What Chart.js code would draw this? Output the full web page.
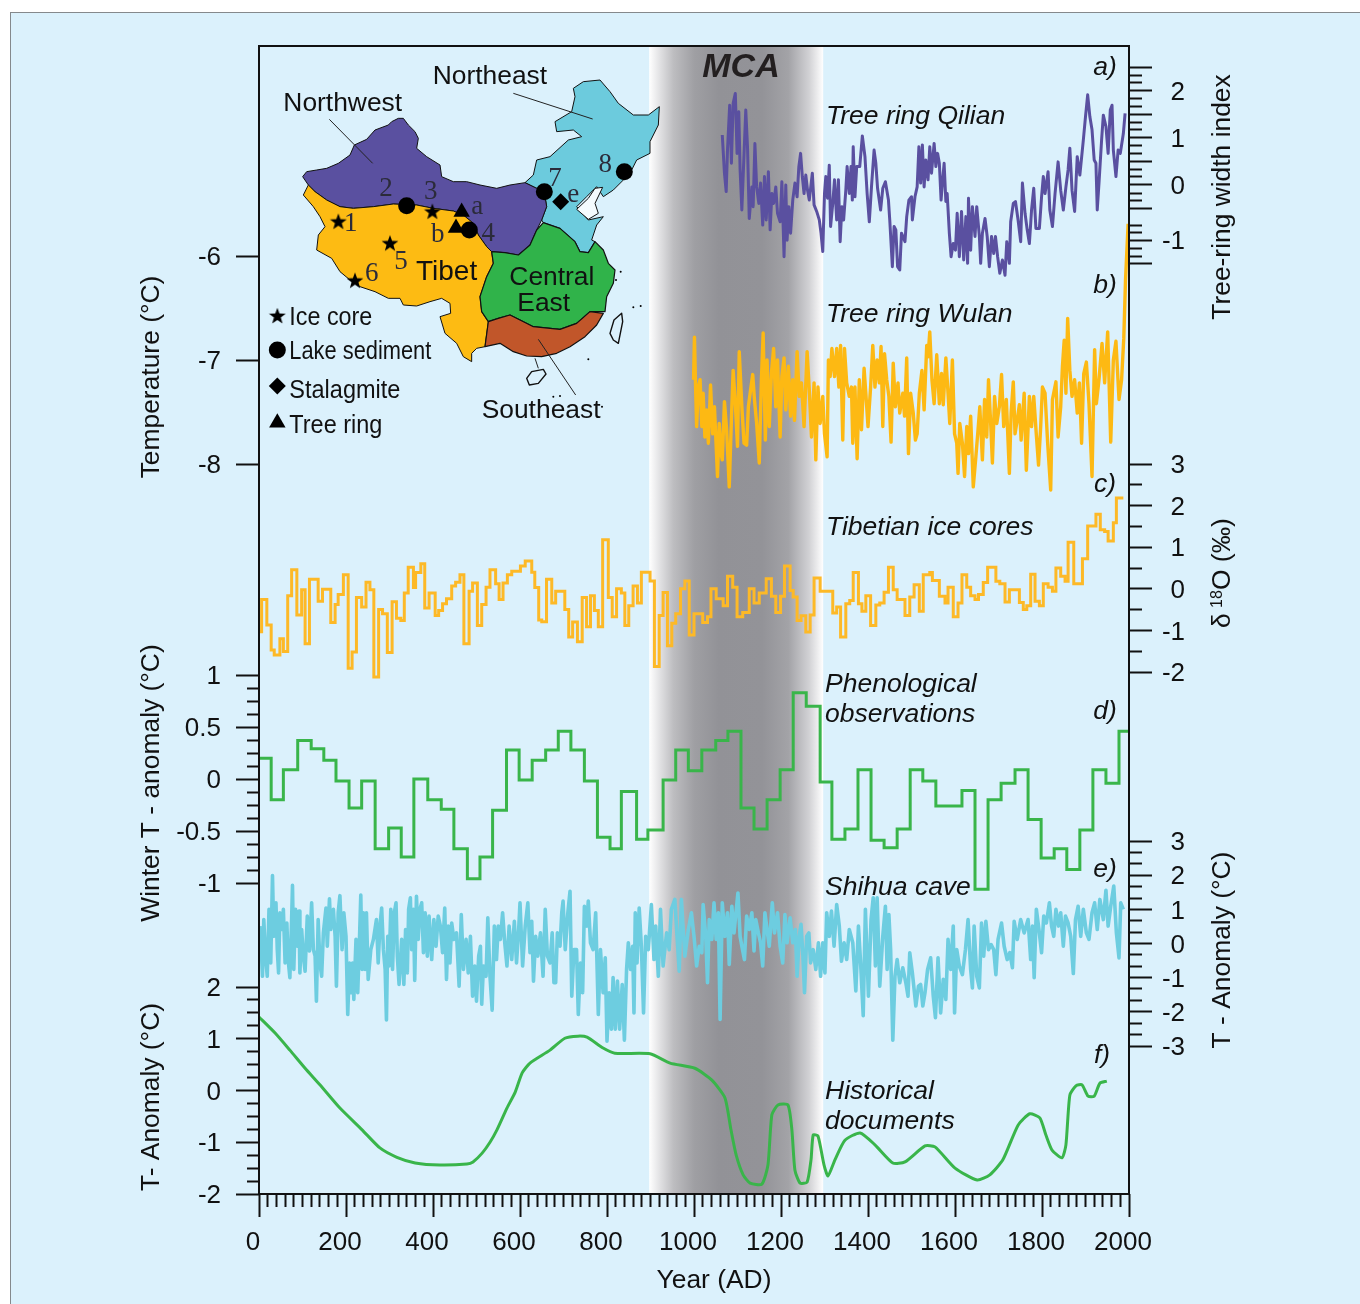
<!DOCTYPE html>
<html>
<head>
<meta charset="utf-8">
<title>MCA temperature records</title>
<script src="https://cdn.jsdelivr.net/npm/chart.js@4"></script>
<style>
html,body{margin:0;padding:0;background:#fff;}
#panel{position:absolute;left:10px;top:12px;width:1350px;height:1292px;background:#dbf1fc;border-left:1.5px solid #85898c;border-top:1.5px solid #85898c;box-sizing:border-box;}
#chart{position:absolute;left:0;top:0;}
</style>
</head>
<body>
<div id="panel"></div>
<canvas id="chart" width="1360" height="1304"></canvas>
<script>
// [year, value]
const treeRingQilian=[[1065,1.06],[1070,.25],[1074,-.14],[1077,.74],[1082,1.69],[1086,.46],[1090,1.73],[1095,1.94],[1099,.67],[1103,1.55],[1106,.32],[1110,-.53],[1113,.18],[1119,1.59],[1123,.81],[1127,-.71],[1133,-.04],[1136,-.46],[1140,.88],[1144,-.04],[1149,-.39],[1153,.04],[1158,-.85],[1162,.18],[1166,-.74],[1171,.28],[1175,-.95],[1179,-.18],[1183,-.39],[1188,-.04],[1192,-.6],[1198,-.78],[1202,.07],[1207,-1.52],[1211,0],[1214,-1.17],[1218,-.46],[1222,-1.02],[1227,-.32],[1232,.04],[1237,-.25],[1241,.39],[1245,.67],[1249,.18],[1253,-.18],[1257,.21],[1261,-.11],[1265,-.32],[1272,.25],[1276,-.42],[1282,-.56],[1288,-.74],[1292,-1.02],[1296,-1.41],[1300,-.18],[1303,.18],[1307,-.28],[1311,.42],[1314,-.88],[1319,-.39],[1323,.11],[1328,-.74],[1332,.11],[1336,-1.2],[1340,-.46],[1344,-.74],[1349,-.11],[1352,.39],[1357,-.18],[1361,.39],[1364,-.32],[1366,.81],[1370,-.25],[1374,.39],[1381,.39],[1387,1.04],[1393,.6],[1398,-.18],[1403,-.78],[1408,-.04],[1414,.74],[1418,.46],[1422,-.07],[1429,-.53],[1434,-.07],[1440,.07],[1447,-.32],[1450,-.74],[1456,-1.73],[1460,-.88],[1464,-.95],[1468,-1.73],[1473,-1.8],[1477,-1.02],[1485,-1.2],[1489,-.67],[1494,-.32],[1500,-.25],[1502,-.74],[1508,-.25],[1513,-.04],[1517,.81],[1521,.04],[1525,.85],[1529,-.04],[1533,.53],[1538,.11],[1542,.81],[1546,.25],[1552,.88],[1556,.39],[1560,.67],[1564,.46],[1568,-.32],[1571,.04],[1575,.46],[1579,-.35],[1582,-.18],[1587,-1.02],[1591,-1.52],[1596,-1.24],[1601,-1.38],[1605,-.6],[1610,-1.52],[1615,-.56],[1620,-1.59],[1625,-.67],[1629,-1.66],[1631,-.28],[1636,-1.38],[1640,-.46],[1646,-1.09],[1650,-.46],[1656,-1.09],[1659,-1.66],[1663,-1.02],[1669,-.71],[1674,-1.09],[1679,-1.73],[1684,-1.09],[1689,-1.45],[1693,-1.09],[1698,-1.52],[1703,-1.87],[1709,-1.59],[1715,-1.91],[1719,-1.2],[1725,-1.66],[1728,-.78],[1734,-.39],[1739,-.35],[1745,-.74],[1751,-1.2],[1755,.04],[1761,-.6],[1766,-.95],[1771,-1.24],[1776,-.53],[1781,-.07],[1786,-.92],[1794,-.92],[1799,-.25],[1803,.18],[1807,-.18],[1814,.28],[1818,-.53],[1824,-.88],[1830,-.18],[1837,.49],[1843,-.11],[1849,-.53],[1855,-.04],[1860,.32],[1864,.78],[1869,-.11],[1875,-.56],[1881,.6],[1887,.21],[1895,.95],[1900,1.45],[1905,1.91],[1910,1.45],[1915,1.17],[1920,.53],[1924,.46],[1927,-.53],[1931,.04],[1937,.95],[1941,1.48],[1947,1.24],[1952,.67],[1957,1.59],[1961,1.69],[1964,.74],[1970,.18],[1975,.74],[1980,.67],[1987,1.09],[1991,1.52]];
const treeRingWulan=[[999,-7.19],[1001,-6.78],[1004,-7.32],[1006,-7.64],[1010,-7.26],[1014,-7.19],[1018,-7.64],[1021,-7.32],[1025,-7.74],[1029,-7.48],[1033,-7.8],[1038,-7.24],[1043,-7.71],[1047,-7.45],[1054,-8.12],[1058,-7.61],[1062,-7.9],[1065,-7.96],[1070,-7.4],[1075,-7.67],[1081,-8.22],[1087,-7.45],[1090,-7.1],[1095,-7.42],[1100,-7.83],[1104,-6.92],[1110,-7.45],[1115,-7.8],[1121,-7.82],[1125,-7.45],[1130,-7.29],[1135,-7.14],[1139,-7.38],[1144,-7.61],[1150,-7.99],[1155,-7.19],[1159,-6.74],[1164,-7.77],[1168,-7],[1173,-7.64],[1178,-7.13],[1183,-6.89],[1188,-7.45],[1192,-7],[1198,-7.74],[1202,-7.16],[1207,-6.98],[1211,-7.48],[1217,-7.06],[1222,-7.54],[1227,-7.19],[1231,-7.58],[1237,-6.92],[1242,-7.35],[1247,-7.22],[1253,-7.64],[1260,-6.92],[1265,-7.29],[1270,-7.74],[1276,-7.22],[1280,-7.96],[1285,-7.26],[1290,-7.61],[1296,-7.35],[1300,-7.71],[1306,-7.93],[1309,-7],[1313,-7.16],[1317,-6.89],[1323,-7.16],[1328,-6.89],[1333,-7.26],[1337,-6.86],[1342,-7.77],[1346,-6.89],[1351,-7.22],[1357,-7.35],[1362,-7.26],[1365,-7.8],[1370,-7.26],[1375,-7.95],[1380,-7.19],[1385,-7.67],[1391,-7.08],[1395,-7.32],[1400,-7.64],[1406,-7.26],[1411,-6.86],[1416,-7.26],[1421,-7],[1426,-7.22],[1430,-6.87],[1434,-7.64],[1438,-6.94],[1443,-7.19],[1448,-7.35],[1453,-7.79],[1458,-7.03],[1463,-7.45],[1469,-7.22],[1473,-7.51],[1480,-7.32],[1484,-7.54],[1489,-6.98],[1493,-7.9],[1498,-7.32],[1504,-7.51],[1509,-7.77],[1513,-7.71],[1518,-7.32],[1524,-7.1],[1529,-7.48],[1535,-6.86],[1538,-6.97],[1542,-6.73],[1547,-7.19],[1552,-7.42],[1558,-6.95],[1564,-7.42],[1569,-7.13],[1573,-7.43],[1579,-6.98],[1584,-7.32],[1588,-7.61],[1594,-7],[1599,-7.71],[1604,-7.8],[1607,-8.09],[1611,-7.61],[1617,-7.8],[1622,-8.12],[1627,-7.64],[1631,-7.9],[1636,-7.54],[1642,-8.22],[1648,-7.93],[1653,-7.67],[1657,-7.45],[1663,-7.96],[1668,-7.38],[1673,-7.74],[1677,-7.19],[1682,-7.61],[1686,-7.99],[1691,-7.35],[1696,-7.61],[1702,-7.45],[1707,-7.14],[1712,-7.64],[1718,-7.38],[1725,-8.09],[1729,-7.51],[1734,-7.21],[1738,-7.71],[1743,-7.58],[1748,-7.43],[1752,-7.77],[1759,-7.32],[1764,-8.06],[1771,-7.35],[1776,-7.64],[1781,-7.35],[1787,-7.72],[1792,-8.01],[1797,-7.64],[1801,-7.26],[1807,-7.32],[1813,-7.8],[1820,-8.25],[1824,-7.38],[1832,-7.21],[1837,-7.74],[1843,-7.45],[1847,-7.06],[1851,-6.81],[1855,-7.32],[1859,-6.6],[1864,-7.1],[1869,-7.35],[1875,-7.19],[1881,-7.51],[1886,-7.22],[1891,-7.8],[1896,-7.13],[1902,-7.02],[1908,-7.42],[1915,-8.12],[1921,-6.9],[1925,-7.42],[1931,-7.19],[1938,-6.84],[1944,-7.22],[1951,-6.73],[1958,-7.79],[1964,-7],[1970,-6.82],[1977,-7.38],[1983,-7.19],[1988,-6.79],[1992,-6.23],[1998,-5.69]];
const tibetanIceCores=[[1,-1.03],[6,-.26],[18,-.87],[28,-1.47],[35,-1.59],[48,-1.2],[56,-1.51],[66,-.17],[75,.46],[87,-.63],[98,-.02],[106,-1.32],[116,.23],[136,-.3],[146,-.01],[165,-.81],[175,-.38],[182,-.14],[194,.34],[205,-1.91],[214,-1.52],[224,-.21],[236,-.44],[246,.16],[255,-.02],[264,-2.12],[275,-.5],[284,-.6],[295,-1.53],[306,-.31],[316,-.71],[326,-.76],[334,-.1],[343,.52],[355,.03],[360,.39],[372,.6],[381,-.46],[391,-.1],[405,-.64],[413,-.52],[422,-.36],[431,-.24],[443,.07],[452,.16],[462,.34],[471,-1.32],[483,-.06],[491,.14],[502,-.88],[512,-.38],[522,.04],[531,.46],[544,.12],[552,-.26],[561,.14],[571,.34],[581,.42],[601,.55],[612,.67],[627,.4],[634,.03],[643,-.75],[650,-.79],[661,.23],[673,-.34],[682,-.06],[703,-.5],[712,-1.16],[721,-.8],[732,-1.27],[743,-.21],[753,-.91],[762,-.17],[771,-.52],[780,-.91],[790,1.18],[803,-.21],[812,-.67],[822,0],[833,-.1],[841,-.88],[850,-.41],[860,.07],[870,-.34],[879,.4],[899,.19],[909,-1.87],[920,-.64],[929,-.09],[939,-1.37],[949,-.83],[958,-.6],[969,0],[979,.19],[989,-1.11],[1000,-.6],[1020,-.81],[1031,-.67],[1039,0],[1051,-.24],[1067,-.41],[1077,.3],[1089,.04],[1099,-.67],[1112,-.57],[1127,0],[1138,-.34],[1150,-.1],[1166,.24],[1178,-.18],[1188,-.57],[1199,-.18],[1208,.55],[1221,-.04],[1228,-.2],[1237,-.76],[1246,-.65],[1257,-1.04],[1267,-.63],[1276,.26],[1290,-.06],[1319,-.58],[1328,-.44],[1337,-1.16],[1349,-.36],[1358,-.28],[1366,.39],[1378,-.36],[1386,-.54],[1395,-.17],[1406,-.88],[1418,-.39],[1427,-.34],[1437,-.08],[1447,.52],[1458,-.02],[1467,-.26],[1485,-.64],[1496,-.2],[1506,.1],[1518,-.54],[1527,.34],[1542,.39],[1548,.2],[1564,-.18],[1577,-.34],[1584,.04],[1596,-.67],[1607,-.34],[1616,.34],[1627,.04],[1636,-.17],[1646,-.26],[1654,-.14],[1665,.15],[1675,.52],[1694,.18],[1703,.12],[1715,-.32],[1725,-.02],[1748,-.33],[1757,-.5],[1765,-.41],[1774,.35],[1784,-.3],[1794,-.41],[1803,.12],[1814,.04],[1824,-.06],[1832,.5],[1843,.3],[1853,.18],[1860,1.12],[1873,.12],[1893,.72],[1905,1.51],[1924,1.79],[1934,1.42],[1944,1.38],[1952,1.15],[1964,1.59],[1971,2.18],[1987,2.18]];
const phenological=[[1,.2],[28,-.2],[56,.09],[89,.37],[120,.29],[149,.18],[177,-.02],[207,-.28],[236,-.02],[267,-.67],[298,-.47],[327,-.75],[356,0],[388,-.2],[419,-.29],[448,-.67],[479,-.96],[508,-.75],[537,-.3],[569,.28],[598,-.01],[628,.18],[659,.28],[688,.46],[717,.28],[748,-.02],[778,-.56],[807,-.67],[833,-.12],[868,-.58],[894,-.49],[929,-.01],[958,.28],[987,.08],[1018,.28],[1050,.37],[1078,.46],[1108,-.28],[1138,-.48],[1168,-.2],[1198,.09],[1228,.83],[1258,.7],[1290,-.03],[1317,-.58],[1347,-.48],[1377,.09],[1407,-.59],[1437,-.66],[1467,-.48],[1497,.09],[1526,-.02],[1556,-.26],[1616,-.11],[1646,-1.06],[1676,-.2],[1706,-.04],[1738,.09],[1768,-.39],[1798,-.76],[1828,-.67],[1857,-.87],[1887,-.49],[1917,.09],[1947,-.04],[1977,.46],[2000,.46]];
const shihuaCave=[[2,.51],[5,-.08],[8,-.96],[11,.7],[15,-.37],[19,-.96],[23,1],[27,-.57],[31,1.99],[34,.21],[39,1.19],[42,-.18],[45,-.86],[48,.9],[53,.41],[56,1],[60,-.57],[64,.6],[67,-.47],[71,-1],[75,.7],[77,1.7],[80,-.76],[84,1],[88,-.08],[92,.95],[94,-.86],[98,.41],[102,-.37],[106,-.81],[111,.8],[116,-.22],[121,1.19],[125,-.18],[129,-.37],[132,-1.69],[136,.7],[140,-.57],[144,-.96],[148,.31],[154,1.04],[157,-.08],[162,1.31],[165,.41],[171,1],[175,.21],[178,-1.25],[182,.9],[186,1.4],[191,-.18],[195,.9],[200,.21],[204,-2.08],[208,-.57],[211,-1.44],[215,-.57],[218,-1.64],[223,.12],[227,-1.44],[231,.12],[234,1.42],[237,-.76],[240,.9],[244,-.76],[247,.9],[251,-1.05],[257,-.18],[263,.12],[270,.7],[274,-.57],[278,.51],[282,1.04],[286,-.18],[290,-.76],[293,-2.24],[296,.21],[299,-.66],[303,1],[307,-.76],[311,.9],[315,1.19],[318,-.37],[322,-1.2],[328,.12],[333,-1.2],[337,.41],[341,-.86],[344,1],[348,1.34],[351,-.18],[355,1],[358,-1.08],[362,1.38],[366,.12],[370,1],[374,1.19],[378,-.27],[382,.9],[387,-.37],[391,.8],[397,-.47],[402,.7],[407,-.08],[412,.8],[417,.51],[422,-.27],[427,1.04],[431,-1.05],[435,.51],[439,-.57],[443,.6],[448,.12],[454,.31],[460,-1.25],[465,.85],[470,-.76],[476,.12],[481,-.86],[486,.21],[491,-1.54],[496,-.66],[500,-1.69],[505,-.37],[509,-.08],[512,-1.78],[516,-.66],[522,-.96],[526,.75],[531,-.96],[536,-1.95],[541,.51],[546,-.47],[550,.51],[555,.12],[560,.9],[565,.02],[570,-.66],[575,.51],[581,-.47],[587,.65],[592,-.57],[597,.41],[600,1.19],[606,-.66],[612,.51],[618,1.19],[623,-.27],[627,.65],[631,-1.1],[636,.21],[641,-.37],[647,.31],[653,-.96],[658,1],[663,-.37],[669,-.57],[674,.31],[678,-1.15],[682,-1.15],[686,.31],[692,-.08],[696,.9],[699,1.24],[704,-.18],[710,.9],[715,1.53],[719,-1.54],[724,-.18],[730,-.18],[734,-2.08],[739,-.57],[744,-1.44],[748,1.09],[753,.51],[757,1.24],[762,.02],[768,-.18],[774,.9],[780,-2.08],[785,-.18],[791,-1.44],[796,-.42],[800,-2.86],[805,-1.44],[810,-2.51],[814,-1],[819,-2.51],[824,-1.1],[829,-2.51],[835,-1.2],[840,-2.83],[845,-.76],[849,.02],[854,-.76],[859,-.08],[862,-2.03],[865,.9],[869,-.57],[874,1.04],[879,-.08],[884,-2.03],[889,.21],[895,-.18],[902,1.14],[908,-.47],[912,.51],[918,-.96],[923,1],[929,-.66],[937,.31],[943,-.18],[948,1],[956,1.29],[961,.21],[966,-.81],[971,1.29],[979,-.37],[987,.41],[994,.9],[1000,.21],[1006,-.66],[1012,-.08],[1018,-.27],[1021,1.14],[1027,.21],[1031,-1.15],[1035,.7],[1041,.12],[1046,1.19],[1051,.12],[1056,.9],[1060,-2.22],[1065,1.19],[1071,.21],[1077,.9],[1081,-.61],[1087,1.09],[1092,.31],[1101,1.48],[1106,.21],[1110,-.08],[1116,-.47],[1121,.8],[1127,.41],[1133,.9],[1138,-.22],[1142,.7],[1148,.31],[1153,.02],[1158,-.66],[1163,.9],[1169,.31],[1173,-.08],[1180,1.19],[1185,.31],[1192,.9],[1198,-.08],[1204,-.57],[1209,.85],[1214,.02],[1221,.75],[1227,.02],[1233,.41],[1237,-.96],[1242,.21],[1246,.56],[1250,-.27],[1254,-1.44],[1259,.21],[1264,.31],[1268,-.57],[1274,-.18],[1280,-.76],[1286,.02],[1291,-.96],[1296,.02],[1301,-.86],[1305,.9],[1311,.21],[1316,.95],[1322,-.08],[1328,1.14],[1334,.51],[1339,-.52],[1345,.02],[1351,-.47],[1357,.41],[1365,.02],[1372,-1.39],[1378,.51],[1383,-.57],[1389,-2.11],[1394,1],[1401,-1.54],[1407,.7],[1412,1.34],[1417,-.66],[1421,1.34],[1427,-1.25],[1434,.21],[1440,1.09],[1444,-.76],[1448,.85],[1452,-.18],[1457,-2.83],[1462,-.96],[1467,-.47],[1473,-1.15],[1480,-.71],[1487,-1.15],[1492,-1.54],[1496,-.27],[1502,-.86],[1510,-1.83],[1516,-1.25],[1521,-1.2],[1526,-1.83],[1531,-1.44],[1537,-.76],[1544,-.42],[1550,-1.54],[1555,-2.17],[1561,-.42],[1567,-2.03],[1573,-1.05],[1579,-1.64],[1584,.12],[1590,-.76],[1596,.51],[1599,-2.03],[1604,-.18],[1610,-.66],[1617,-.91],[1624,-.18],[1630,.7],[1636,-.76],[1640,-1.3],[1644,.51],[1650,-.96],[1656,-1.3],[1661,.6],[1666,-.37],[1671,.65],[1677,-.18],[1683,-.03],[1689,-.18],[1694,-.91],[1699,.12],[1707,.6],[1713,-.08],[1720,-.47],[1726,-.27],[1732,-.71],[1736,.65],[1743,.12],[1751,.7],[1759,.31],[1768,.7],[1774,-.47],[1778,.51],[1782,-1],[1787,1],[1793,.41],[1799,-.27],[1804,.8],[1810,.6],[1817,1.19],[1822,.51],[1827,.21],[1832,1],[1838,.51],[1843,.9],[1849,-.08],[1854,.8],[1860,.6],[1866,.21],[1872,-.88],[1877,.7],[1883,1.09],[1889,.21],[1895,1],[1902,.31],[1908,.12],[1915,.9],[1921,1.19],[1927,.41],[1933,1.29],[1941,.7],[1947,1.56],[1952,.51],[1958,1.09],[1965,1.68],[1971,.31],[1977,-.42],[1981,1.19],[1987,1]];
const historicalDocs=[[0,1.42],[37,1.11],[71,.78],[106,.43],[140,.11],[186,-.34],[237,-.76],[278,-1.11],[317,-1.29],[359,-1.4],[416,-1.44],[478,-1.42],[492,-1.38],[513,-1.21],[531,-1],[547,-.76],[570,-.34],[589,-.03],[605,.34],[623,.53],[669,.78],[703,1.01],[733,1.05],[754,1.03],[791,.82],[818,.72],[899,.71],[945,.53],[1002,.43],[1041,.2],[1071,-.14],[1085,-.76],[1097,-1.25],[1113,-1.63],[1129,-1.79],[1156,-1.81],[1170,-1.44],[1179,-.47],[1193,-.28],[1216,-.28],[1225,-.76],[1232,-1.54],[1244,-1.79],[1260,-1.77],[1269,-1.34],[1274,-.86],[1285,-.88],[1299,-1.44],[1308,-1.65],[1324,-1.34],[1347,-.96],[1382,-.82],[1416,-1.05],[1457,-1.4],[1485,-1.38],[1531,-1.07],[1554,-1.09],[1600,-1.5],[1651,-1.73],[1680,-1.63],[1710,-1.34],[1745,-.67],[1772,-.45],[1795,-.53],[1809,-.86],[1823,-1.15],[1846,-1.3],[1855,-1.05],[1864,-.09],[1878,.09],[1892,.11],[1906,-.11],[1920,-.11],[1933,.14],[1949,.18]];

const mcaYears=[897,1297];

const xMajor=[0,200,400,600,800,1000,1200,1400,1600,1800,2000];
const xMinor=[20,40,60,80,100,120,140,160,180,220,240,260,280,300,320,340,360,380,420,440,460,480,500,520,540,560,580,620,640,660,680,700,720,740,760,780,820,840,860,880,900,920,940,960,980,1020,1040,1060,1080,1100,1120,1140,1160,1180,1220,1240,1260,1280,1300,1320,1340,1360,1380,1420,1440,1460,1480,1500,1520,1540,1560,1580,1620,1640,1660,1680,1700,1720,1740,1760,1780,1820,1840,1860,1880,1900,1920,1940,1960,1980];

const tempTicks=[-6,-7,-8];
const tempLabels=["-6","-7","-8"];
const winterTicks=[1,.5,0,-.5,-1];
const winterLabels=["1","0.5","0","-0.5","-1"];
const winterMinor=[.875,.75,.625,.375,.25,.125,-.125,-.25,-.375,-.625,-.75,-.875];
const histTicks=[2,1,0,-1,-2];
const histLabels=["2","1","0","-1","-2"];
const histMinor=[1.75,1.5,1.25,.75,.5,.25,-.25,-.5,-.75,-1.25,-1.5,-1.75];
const qilianTicks=[2.5,2,1.5,1,.5,0,-.5,-1.17,-1.66];
const qilianLabels=["","2","","1","","0","","-1",""];
const qilianMinor=[2.33,2.17,1.83,1.67,1.33,1.17,.83,.67,.33,.17,-.17,-.33,-.85,-1.01,-1.34,-1.52];
const iceTicks=[3,2,1,0,-1,-2];
const iceLabels=["3","2","1","0","-1","-2"];
const iceMinor=[2.5,1.5,.5,-.5,-1.5];
const caveTicks=[3,2,1,0,-1,-2,-3];
const caveLabels=["3","2","1","0","-1","-2","-3"];
const caveMinor=[2.67,2.33,1.67,1.33,.67,.33,-.33,-.67,-1.33,-1.67,-2.33,-2.67];

// inset map outlines, in inset units
const northwestShape=[128,380,140,365,170,360,200,355,235,340,270,315,283,285,320,268,345,240,385,225,395,215,415,205,430,205,445,225,465,245,475,265,470,295,500,320,540,345,545,380,580,395,620,395,660,405,710,415,750,405,795,398,830,415,855,440,860,470,845,510,830,540,810,585,775,615,735,608,695,605,680,590,655,555,640,520,610,495,580,483,520,475,470,465,400,462,340,470,280,475,240,470,200,450,165,425,145,405];
const tibetShape=[145,405,165,425,200,450,240,470,280,475,340,470,400,462,470,465,520,475,580,483,610,495,640,520,655,555,680,590,695,605,700,640,680,680,660,740,665,785,685,815,675,890,650,895,635,910,635,935,610,920,590,880,555,850,540,800,572,790,570,760,545,745,510,755,470,768,430,765,420,745,385,745,345,725,300,710,270,690,240,665,215,625,170,600,175,555,195,530,180,500,160,470,130,435];
const centralShape=[850,518,900,535,945,575,960,605,985,608,1005,575,1030,600,1045,640,1065,660,1060,700,1040,740,1035,785,990,785,950,820,900,838,820,830,780,810,750,795,715,805,685,815,665,785,660,740,680,680,700,640,695,605,735,608,775,615,810,585,830,540];
const southeastShape=[685,815,715,805,750,795,780,810,820,830,900,838,950,820,990,785,1030,790,1010,825,975,860,930,890,890,910,845,920,800,918,760,905,720,880,675,890];
const northeastShape=[795,398,820,375,830,330,870,320,925,270,965,260,940,240,890,245,885,215,935,185,945,140,940,115,970,95,1020,90,1050,125,1075,160,1120,195,1165,195,1198,170,1195,225,1170,275,1170,310,1130,330,1110,370,1060,420,1030,440,1010,410,980,440,950,470,985,510,1030,500,1010,525,995,570,1005,575,985,608,960,605,945,575,900,535,850,518,845,510,860,470,855,440,830,415];
const bohaiShape=[1028,412,1005,415,985,445,950,478,985,508,1015,490,1005,460];
const hainanShape=[800,985,815,965,850,958,858,972,835,1000,808,1005];
const taiwanShape=[1062,810,1085,790,1088,815,1075,880,1060,870,1050,850];

const iceCoreSites=[[235,515],[517,485],[390,580],[285,692],[52,798]];
const lakeSites=[[440,467],[628,540],[853,425],[1093,365],[52,900]];
const stalagmiteSites=[[902,455],[52,1008]];
const treeRingSites=[[605,486],[588,534],[52,1118]];
const islets=[[1120,772],[1142,768],[985,928],[880,1040],[900,1038],[1026,1070],[1082,665],[1068,690]];

const leaderLines=[[208,208,338,340],[760,130,998,207],[835,868,947,1035],[825,925,835,955]];
const siteLabels=[["1",272,515],["2",378,412],["3",512,420],["4",685,545],["5",423,630],["6",335,667],["7",885,382],["8",1036,340],["a",652,465],["b",533,548],["e",940,428]];

function pairs(list){
  return list.map(p=>({x:p[0],y:p[1]}));
}

function starImage(){
  const c=document.createElement("canvas");
  c.width=18;c.height=18;
  const g=c.getContext("2d");
  g.beginPath();
  for(let i=0;i<10;i++){
    const r=i%2?3.6:8.8;
    const a=-Math.PI/2+i*Math.PI/5;
    g.lineTo(9+r*Math.cos(a),9.5+r*Math.sin(a));
  }
  g.closePath();
  g.fillStyle="#000";
  g.fill();
  return c;
}

const plotTop=46,plotBottom=1194;

function rangeFor(valA,pixA,valB,pixB){
  const unit=(pixB-pixA)/(valA-valB);
  return {max:valA+(pixA-plotTop)/unit,min:valA-(plotBottom-pixA)/unit};
}

function yAxis(position,range,ticks,labels,length,pad){
  return {
    type:"linear",axis:"y",position:position,min:range.min,max:range.max,
    afterBuildTicks(s){s.ticks=ticks.map(v=>({value:v}));},
    afterFit(s){s.width=0;},
    border:{display:false},
    grid:{display:true,drawOnChartArea:false,drawTicks:true,tickLength:length,tickWidth:2,tickColor:"#111"},
    ticks:{
      display:!!labels,autoSkip:false,padding:pad,color:"#111",maxRotation:0,labelOffset:2,
      crossAlign:position==="right"?"far":"near",
      font:{family:"'Liberation Sans'",size:26},
      callback(v){return labels?labels[ticks.indexOf(v)]:"";}
    }
  };
}

function xAxis(ticks,length,withLabels){
  return {
    type:"linear",axis:"x",position:"bottom",min:0,max:2000,
    afterBuildTicks(s){s.ticks=ticks.map(v=>({value:v}));},
    afterFit(s){s.height=0;},
    border:{display:false},
    grid:{display:true,drawOnChartArea:false,drawTicks:true,tickLength:length,tickWidth:2,tickColor:"#111"},
    ticks:{
      display:withLabels,autoSkip:false,padding:10,color:"#111",maxRotation:0,labelOffset:-6,
      font:{family:"'Liberation Sans'",size:26},
      callback(v){return String(v);}
    }
  };
}

const tempRange=rangeFor(-6,256,-8,464);
const winterRange=rangeFor(1,675,-1,883);
const histRange=rangeFor(2,987,-2,1194);
const qilianRange=rangeFor(2,90.6,0,185);
const iceRange=rangeFor(3,464,-2,672);
const caveRange=rangeFor(3,841,-3,1046);

function series(list,axis,color,width,extra){
  return Object.assign({
    type:"line",data:pairs(list),xAxisID:"x",yAxisID:axis,
    borderColor:color,borderWidth:width,pointRadius:0,fill:false,tension:0,clip:false,
    borderJoinStyle:"round",borderCapStyle:"butt"
  },extra||{});
}

function symbols(list,style,radius){
  return {
    type:"line",showLine:false,data:pairs(list),xAxisID:"mapX",yAxisID:"mapY",
    pointStyle:style,pointRadius:radius,pointBackgroundColor:"#000",pointBorderWidth:0,clip:false
  };
}

function label(ctx,text,x,y,font,align,maxWidth){
  ctx.font=font;
  ctx.textAlign=align||"left";
  ctx.textBaseline="middle";
  if(maxWidth){
    ctx.fillText(text,x,y+2,maxWidth);
  }else{
    ctx.fillText(text,x,y+2);
  }
}

function upright(ctx,text,x,y){
  ctx.save();
  ctx.translate(x,y);
  ctx.rotate(-Math.PI/2);
  label(ctx,text,0,0,"26.4px 'Liberation Sans'","center");
  ctx.restore();
}

// tick labels get clipped to the axis box, so open the boxes up once placed
const openAxisBoxes={
  id:"openAxisBoxes",
  afterLayout(chart){
    Object.values(chart.scales).forEach(s=>{
      if(s.options.position==="left") s.left=0;
      if(s.options.position==="right") s.right=1185; // right-aligned labels end here
      if(s.options.position==="bottom") s.bottom=chart.height;
    });
  }
};

const mcaBand={
  id:"mcaBand",
  beforeDatasetsDraw(chart){
    const ctx=chart.ctx;
    const a=chart.chartArea;
    const x0=chart.scales.x.getPixelForValue(mcaYears[0]);
    const x1=chart.scales.x.getPixelForValue(mcaYears[1]);
    const g=ctx.createLinearGradient(x0,0,x1,0);
    g.addColorStop(0,"#ffffff");
    g.addColorStop(.06,"#e2e2e4");
    g.addColorStop(.14,"#bdbdc0");
    g.addColorStop(.26,"#9f9fa3");
    g.addColorStop(.4,"#929297");
    g.addColorStop(.65,"#939398");
    g.addColorStop(.8,"#a3a3a7");
    g.addColorStop(.92,"#d2d2d5");
    g.addColorStop(1,"#ffffff");
    ctx.save();
    ctx.fillStyle=g;
    ctx.fillRect(x0,a.top,x1-x0,a.bottom-a.top);
    ctx.restore();
  }
};

const chinaMap={
  id:"chinaMap",
  beforeDatasetsDraw(chart){
    const ctx=chart.ctx;
    const mx=chart.scales.mapX,my=chart.scales.mapY;
    function shape(pts,color,line){
      ctx.beginPath();
      for(let i=0;i<pts.length;i+=2){
        ctx.lineTo(mx.getPixelForValue(pts[i]),my.getPixelForValue(pts[i+1]));
      }
      ctx.closePath();
      ctx.fillStyle=color;
      ctx.fill();
      ctx.lineWidth=line;
      ctx.strokeStyle="#111";
      ctx.stroke();
    }
    ctx.save();
    ctx.lineJoin="round";
    shape(northeastShape,"#6ccbdd",1);
    shape(northwestShape,"#5a50a0",1);
    shape(tibetShape,"#fdbb13",1);
    shape(centralShape,"#30b34a",1.2);
    shape(southeastShape,"#c1562a",1.2);
    shape(bohaiShape,"#f4fbfe",1);
    shape(hainanShape,"#dbf1fc",1.4);
    shape(taiwanShape,"#dbf1fc",1.4);
    ctx.restore();
  },
  afterDatasetsDraw(chart){
    const ctx=chart.ctx;
    const mx=chart.scales.mapX,my=chart.scales.mapY;
    const px=v=>mx.getPixelForValue(v),py=v=>my.getPixelForValue(v);
    const sans="26.4px 'Liberation Sans'";
    ctx.save();
    ctx.strokeStyle="#222";
    ctx.lineWidth=1;
    leaderLines.forEach(l=>{
      ctx.beginPath();
      ctx.moveTo(px(l[0]),py(l[1]));
      ctx.lineTo(px(l[2]),py(l[3]));
      ctx.stroke();
    });
    ctx.fillStyle="#2b2b3a";
    siteLabels.forEach(s=>label(ctx,s[0],px(s[1]),py(s[2]),"27px 'Liberation Serif'","center"));
    ctx.fillStyle="#111";
    label(ctx,"Northwest",px(70),py(155),sans);
    label(ctx,"Northeast",px(518),py(75),sans);
    label(ctx,"Southeast",px(665),py(1075),sans);
    label(ctx,"Tibet",px(468),py(660),"28px 'Liberation Sans'");
    label(ctx,"Central",px(748),py(678),sans);
    label(ctx,"East",px(772),py(755),sans);
    label(ctx,"Ice core",px(88),py(798),sans,"left",83);
    label(ctx,"Lake sediment",px(88),py(900),sans,"left",142);
    label(ctx,"Stalagmite",px(88),py(1017),sans,"left",111);
    label(ctx,"Tree ring",px(88),py(1120),sans,"left",93);
    ctx.restore();
  }
};

const annotations={
  id:"annotations",
  afterDatasetsDraw(chart){
    const ctx=chart.ctx;
    const a=chart.chartArea;
    const ital="italic 26.5px 'Liberation Sans'";
    ctx.save();
    ctx.strokeStyle="#111";
    ctx.lineWidth=2;
    ctx.strokeRect(a.left,a.top,a.right-a.left,a.bottom-a.top);
    ctx.fillStyle="#231f20";
    label(ctx,"MCA",741,66,"italic bold 34px 'Liberation Sans'","center");
    ctx.fillStyle="#111";
    label(ctx,"Tree ring Qilian",826,115,ital);
    label(ctx,"Tree ring Wulan",826,313,ital);
    label(ctx,"Tibetian ice cores",826,526,ital);
    label(ctx,"Phenological",825,683,ital);
    label(ctx,"observations",825,713,ital);
    label(ctx,"Shihua cave",825,886,ital);
    label(ctx,"Historical",825,1090,ital);
    label(ctx,"documents",825,1120,ital);
    label(ctx,"a)",1105,66,ital,"center");
    label(ctx,"b)",1105,284,ital,"center");
    label(ctx,"c)",1105,483,ital,"center");
    label(ctx,"d)",1105,710,ital,"center");
    label(ctx,"e)",1105,868,ital,"center");
    label(ctx,"f)",1102,1054,ital,"center");

    upright(ctx,"Temperature (°C)",150,377);
    upright(ctx,"Winter T - anomaly (°C)",150,783);
    upright(ctx,"T- Anomaly (°C)",150,1097);
    upright(ctx,"Tree-ring width index",1221,197);
    upright(ctx,"T - Anomaly (°C)",1221,950);
    label(ctx,"Year (AD)",714,1279,"26.4px 'Liberation Sans'","center");

    // delta 18O title, superscript drawn separately
    ctx.translate(1221,628);
    ctx.rotate(-Math.PI/2);
    label(ctx,"δ",0,0,"26.4px 'Liberation Sans'");
    label(ctx,"18",20,-5,"16px 'Liberation Sans'");
    label(ctx,"O (‰)",38,0,"26.4px 'Liberation Sans'");
    ctx.restore();
  }
};

new Chart(document.getElementById("chart"),{
  data:{
    datasets:[
      symbols(iceCoreSites,starImage(),9),
      symbols(lakeSites,"circle",8.5),
      symbols(stalagmiteSites,"rectRot",8.5),
      symbols(treeRingSites,"triangle",9.5),
      symbols(islets,"circle",1),
      series(treeRingQilian,"yQilian","#5a50a0",3),
      series(treeRingWulan,"yTemp","#fdb913",3.4),
      series(tibetanIceCores,"yIce","#fdb927",3,{stepped:"before",borderJoinStyle:"miter"}),
      series(phenological,"yWinter","#39b54a",3,{stepped:"before",borderJoinStyle:"miter"}),
      series(shihuaCave,"yCave","#6dcde0",3.6),
      series(historicalDocs,"yHist","#39b54a",3,{tension:.2})
    ]
  },
  options:{
    responsive:false,
    animation:false,
    devicePixelRatio:1,
    layout:{padding:{left:259,right:231,top:46,bottom:110}},
    plugins:{legend:{display:false},tooltip:{enabled:false}},
    scales:{
      x:xAxis(xMajor,23,true),
      xMinor:xAxis(xMinor,13,false),
      yTemp:yAxis("left",tempRange,tempTicks,tempLabels,23,15),
      yWinter:yAxis("left",winterRange,winterTicks,winterLabels,23,15),
      yWinterMinor:yAxis("left",winterRange,winterMinor,null,12,0),
      yHist:yAxis("left",histRange,histTicks,histLabels,23,15),
      yHistMinor:yAxis("left",histRange,histMinor,null,12,0),
      yQilian:yAxis("right",qilianRange,qilianTicks,qilianLabels,23,8),
      yQilianMinor:yAxis("right",qilianRange,qilianMinor,null,13,0),
      yIce:yAxis("right",iceRange,iceTicks,iceLabels,23,8),
      yIceMinor:yAxis("right",iceRange,iceMinor,null,13,0),
      yCave:yAxis("right",caveRange,caveTicks,caveLabels,23,8),
      yCaveMinor:yAxis("right",caveRange,caveMinor,null,13,0),
      mapX:{type:"linear",axis:"x",display:false,min:-3,max:2607},
      mapY:{type:"linear",axis:"y",display:false,reverse:true,min:-12,max:3432}
    }
  },
  plugins:[openAxisBoxes,mcaBand,chinaMap,annotations]
});
</script>
</body>
</html>
